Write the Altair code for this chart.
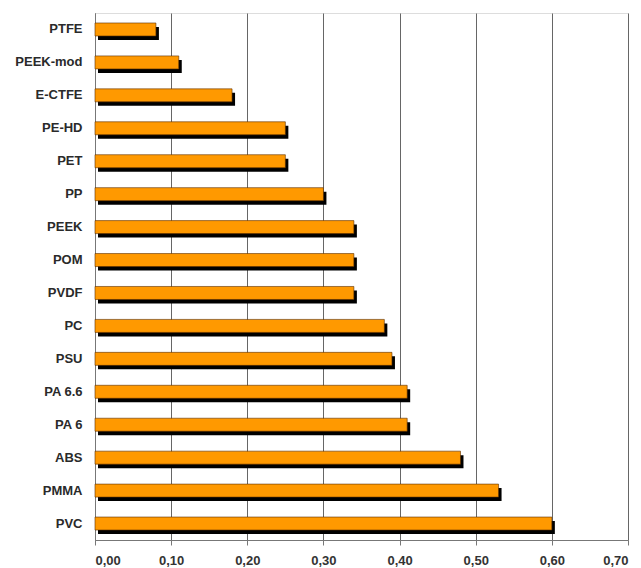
import altair as alt
import pandas as pd

materials = ["PTFE", "PEEK-mod", "E-CTFE", "PE-HD", "PET", "PP", "PEEK", "POM",
             "PVDF", "PC", "PSU", "PA 6.6", "PA 6", "ABS", "PMMA", "PVC"]
values = [0.08, 0.11, 0.18, 0.25, 0.25, 0.30, 0.34, 0.34,
          0.34, 0.38, 0.39, 0.41, 0.41, 0.48, 0.53, 0.60]
x_ticks = [0.0, 0.1, 0.2, 0.3, 0.4, 0.5, 0.6, 0.7]

df = pd.DataFrame({"material": materials, "value": values})

x_enc = alt.X("value:Q",
              scale=alt.Scale(domain=[0, 0.7], nice=False, zero=True),
              axis=alt.Axis(values=x_ticks, title=None, grid=True, gridColor="#666666",
                            gridWidth=1, gridOpacity=1, domainColor="#777777",
                            tickColor="#777777", tickSize=5,
                            labelExpr="replace(format(datum.value, '.2f'), '.', ',')",
                            labelFont="Liberation Sans", labelFontWeight="bold",
                            labelFontSize=13, labelColor="#333333", labelPadding=9))
y_enc = alt.Y("material:N", sort=materials,
              scale=alt.Scale(paddingInner=0.6, paddingOuter=0.3),
              axis=alt.Axis(title=None, ticks=False, domainColor="#777777",
                            labelFont="Liberation Sans", labelFontWeight="bold",
                            labelFontSize=13, labelColor="#2a2a2a", labelPadding=13))

shadow = alt.Chart(df).mark_bar(color="#000000", size=13, xOffset=3, yOffset=4).encode(
    x=x_enc, y=y_enc)
bars = alt.Chart(df).mark_bar(color="#FF9900", size=13, stroke="#5a2e00",
                              strokeWidth=0.6).encode(x=x_enc, y=y_enc)

chart = alt.layer(shadow, bars).properties(
    width=533, height=527,
    autosize=alt.AutoSizeParams(type="none"),
    padding={"left": 95, "top": 13, "right": 13, "bottom": 28},
).configure_view(stroke=None).configure(background="white")

chart.save("out.html", embed_options={"renderer": "svg", "actions": False})
